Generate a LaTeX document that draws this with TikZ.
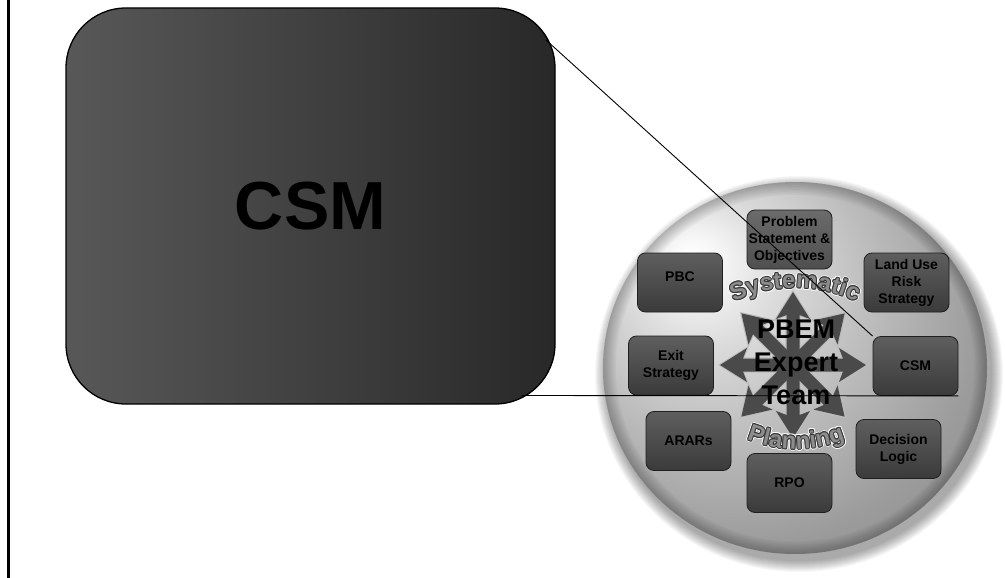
\documentclass[tikz,border=0pt]{standalone}
\usepackage{fontspec}
\setmainfont{Liberation Sans}
\usetikzlibrary{decorations.text}
\definecolor{gA}{gray}{1}
\definecolor{gB}{gray}{0.97}
\definecolor{gC}{gray}{0.86}
\definecolor{gD}{gray}{0.74}
\definecolor{gE}{gray}{0.61}
\definecolor{gF}{gray}{0.53}
\definecolor{bigL}{gray}{0.345}
\definecolor{bigR}{gray}{0.157}
\definecolor{boxT}{gray}{0.37}
\definecolor{boxB}{gray}{0.23}
\definecolor{boxTl}{gray}{0.42}
\definecolor{boxBl}{gray}{0.31}
\definecolor{boxLine}{gray}{0.12}
\definecolor{arrowFill}{gray}{0.29}
\definecolor{arrowEdge}{gray}{0.74}
\definecolor{curveFill}{gray}{0.55}
\definecolor{curveLine}{gray}{0.21}
\pgfdeclareradialshading{spherebg}{\pgfpoint{-14bp}{15bp}}{%
  color(0bp)=(gA); color(3bp)=(gB); color(10bp)=(gC); color(20bp)=(gD);
  color(32bp)=(gE); color(45bp)=(gF); color(70bp)=(gF)}
\tikzset{
  bigbox/.style={draw=black, line width=1.3pt, rounded corners=60pt,
    left color=bigL, right color=bigR, minimum width=489pt, minimum height=396pt,
    inner sep=0pt},
  bigtext/.style={text=black, font=\fontsize{68}{68}\selectfont\bfseries},
  smallbox/.style={draw=boxLine, line width=0.8pt, rounded corners=8pt,
    top color=boxT, bottom color=boxB, minimum width=85pt, minimum height=59pt,
    inner sep=0pt},
  lightbox/.style={smallbox, top color=boxTl, bottom color=boxBl},
  boxlabel/.style={align=center, text=black, inner sep=0pt,
    font=\fontsize{14}{17}\selectfont\bfseries},
  connector/.style={draw=black, line width=0.9pt},
}
\newcommand\sysword{|\fontsize{24}{24}\selectfont\bfseries|Systematic}
\newcommand\planword{|\fontsize{24}{24}\selectfont\bfseries|Planning}
\begin{document}
\begin{tikzpicture}[x=1pt,y=-1pt]
\useasboundingbox (0,0) rectangle (1005,578);
\fill[white] (0,0) rectangle (1005,578);
% left rule
\draw[line width=3pt] (8.5,0) -- (8.5,578);
% big CSM box
\node[bigbox] (big) at (310.5,206) {};
\node[bigtext] (bigT) at (big.center) {CSM};
\coordinate (bigTR) at (546,40);
\coordinate (bigBR) at (521.5,395.5);
% sphere shadow
\foreach \i in {1,...,12}{
  \fill[black,opacity=0.03] (799,374) ellipse[x radius=192+\i, y radius=186+\i];
}
% sphere body
\path[shading=spherebg] (795,368) ellipse[x radius=192, y radius=186];
% rim darkening
\foreach \i in {1,...,8}{
  \fill[black,opacity=0.03,even odd rule] (795,368) ellipse[x radius=192, y radius=186]
     (795,368) ellipse[x radius=192-1.6*\i, y radius=186-1.6*\i];
}
% boxes
\node[lightbox] (prob) at (789.5,239.5) {};
\node[smallbox] (land) at (906.5,282.5) {};
\node[smallbox] (pbc) at (680,282.5) {};
\node[smallbox] (exit) at (671,365.5) {};
\node[smallbox] (csm) at (915.5,366) {};
\node[smallbox] (arars) at (688.5,441) {};
\node[smallbox] (dec) at (898.5,449) {};
\node[smallbox] (rpo) at (789.5,483) {};
% box labels
\special{pdf:code 0 Tr}
\node[boxlabel] (probT) at (prob.center) {Problem\\Statement \&\\Objectives};
\node[boxlabel] (landT) at (land.center) {Land Use\\Risk\\Strategy};
\node[boxlabel] (pbcT) at ([yshift=6pt]pbc.center) {PBC};
\node[boxlabel] (exitT) at (exit.center) {Exit\\Strategy};
\node[boxlabel] (csmT) at (csm.center) {CSM};
\node[boxlabel] (ararsT) at (arars.center) {ARARs};
\node[boxlabel] (decT) at (dec.center) {Decision\\Logic};
\node[boxlabel] (rpoT) at (rpo.center) {RPO};
% star of arrows
\foreach \a in {0,45,...,315}{
  \draw[arrowEdge, line width=2.2pt, line join=miter, shift={(793,365)}, rotate=\a]
    (0,-6.5) -- (50,-6.5) -- (46,-17) -- (73,0) -- (46,17) -- (50,6.5) -- (0,6.5) -- cycle;
}
\foreach \a in {0,45,...,315}{
  \fill[arrowFill, shift={(793,365)}, rotate=\a]
    (0,-6.5) -- (50,-6.5) -- (46,-17) -- (73,0) -- (46,17) -- (50,6.5) -- (0,6.5) -- cycle;
}
% centre text
\node[align=center, text=black, font=\fontsize{27}{33}\selectfont\bfseries] (team) at (796,362) {PBEM\\Expert\\Team};
% curved words
\foreach \dx/\dy/\cc in {2/0/white,-2/0/white,0/2/white,0/-2/white,
   1.4/1.4/white,-1.4/1.4/white,1.4/-1.4/white,-1.4/-1.4/white,
   1/0/curveLine,-1/0/curveLine,0/1/curveLine,0/-1/curveLine,
   0.7/0.7/curveLine,-0.7/0.7/curveLine,0.7/-0.7/curveLine,-0.7/-0.7/curveLine,
   0/0/curveFill}{
  \path[decorate, decoration={text along path, text align=center,
      text color=\cc, text={\sysword}}, shift={(795+\dx,432+\dy)}]
      (242:144) arc[start angle=242, end angle=298, radius=144];
  \path[decorate, decoration={text along path, text align=center,
      text color=\cc, text={\planword}}, shift={(796+\dx,319+\dy)}]
      (112:130) arc[start angle=112, end angle=68, radius=130];
}
% zoom connectors
\draw[connector] (bigTR) -- (csm.north west);
\draw[connector] (bigBR) -- (csm.south east);
\end{tikzpicture}
\end{document}
